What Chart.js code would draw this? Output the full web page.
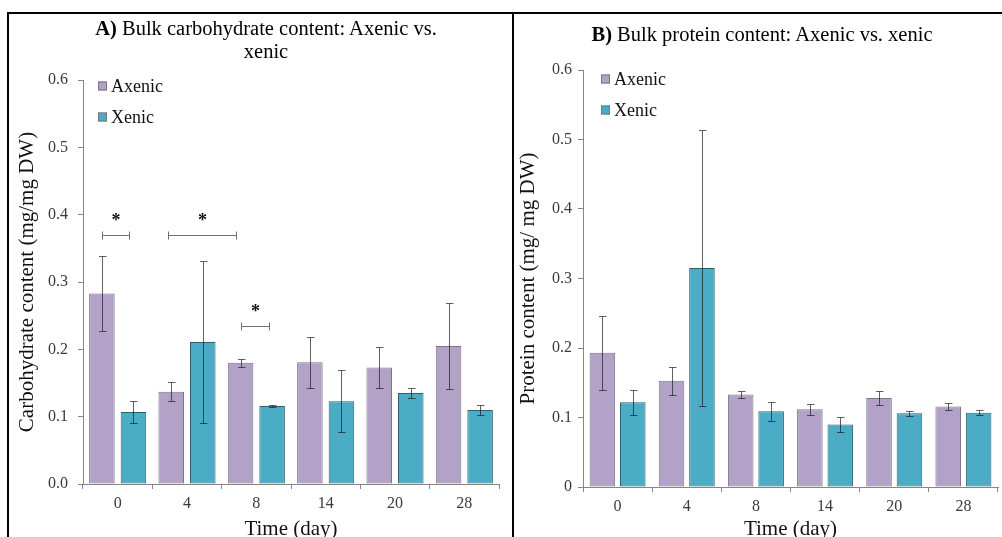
<!DOCTYPE html>
<html>
<head>
<meta charset="utf-8">
<script src="https://cdn.jsdelivr.net/npm/chart.js@4.4.1/dist/chart.umd.min.js"></script>
<style>
  html, body { margin: 0; padding: 0; background: #fff; }
  body { width: 1002px; height: 537px; position: relative; overflow: hidden; font-family: "Liberation Serif", "Times New Roman", serif; }
  .frame { position: absolute; left: 7px; top: 12px; width: 1010px; height: 540px; border-top: 2px solid #000; border-left: 2px solid #000; }
  .divider { position: absolute; left: 512px; top: 12px; width: 2px; height: 530px; background: #000; }
  .box { position: absolute; top: 15px; height: 522px; }
  .title { position: absolute; width: 420px; text-align: center; font-size: 20.5px; line-height: 23px; color: #000; white-space: nowrap; }
</style>
</head>
<body>
<div class="frame"></div>
<div class="divider"></div>
<div class="box" style="left:10px;width:502px;"><canvas id="carbChart"></canvas></div>
<div class="box" style="left:515px;width:487px;"><canvas id="protChart"></canvas></div>
<div class="title" style="left:56px;top:17px;"><b>A)</b> Bulk carbohydrate content: Axenic vs.<br>xenic</div>
<div class="title" style="left:552px;top:23px;"><b>B)</b> Bulk protein content: Axenic vs. xenic</div>
<script>
// jours d'échantillonnage
const days = ['0', '4', '8', '14', '20', '28'];

// A) glucides (mg/mg DW)
const carbAxenic = [0.283, 0.137, 0.180, 0.181, 0.173, 0.205];
const carbAxenicErr = [0.056, 0.014, 0.006, 0.038, 0.030, 0.064];
const carbXenic = [0.107, 0.211, 0.116, 0.123, 0.135, 0.110];
const carbXenicErr = [0.017, 0.120, 0.001, 0.046, 0.008, 0.008];

// B) protéines (mg/mg DW)
const protAxenic = [0.193, 0.153, 0.133, 0.112, 0.128, 0.116];
const protAxenicErr = [0.053, 0.020, 0.005, 0.008, 0.010, 0.005];
const protXenic = [0.122, 0.315, 0.109, 0.090, 0.106, 0.107];
const protXenicErr = [0.018, 0.198, 0.014, 0.011, 0.004, 0.004];

// crochets de significativité (position en index de catégorie, niveau en mg/mg DW)
const sigStart = [-0.23, 0.725, 1.78];
const sigEnd = [0.16, 1.705, 2.18];
const sigLevel = [0.370, 0.370, 0.235];

const yTicks = [0, 0.1, 0.2, 0.3, 0.4, 0.5, 0.6];

const colors = {
    axenic: '#b3a2c7',
    axenicBorder: '#7d7288',
    xenic: '#4bacc6',
    xenicBorder: '#2d5f6d',
    axis: '#868686',
    text: '#3a3a3a',
    err: 'rgba(30,30,30,0.7)'
};
const serif = '"Liberation Serif", "Times New Roman", serif';

// barres d'erreur
const errorBars = {
    id: 'errorBars',
    afterDatasetsDraw(chart) {
        const { ctx } = chart;
        const y = chart.scales.y;
        ctx.save();
        ctx.strokeStyle = colors.err;
        ctx.lineWidth = 1;
        chart.data.datasets.forEach((ds, i) => {
            chart.getDatasetMeta(i).data.forEach((bar, j) => {
                const v = ds.data[j], e = ds.errors[j];
                const top = Math.round(y.getPixelForValue(v + e)) + 0.5;
                const bot = Math.round(y.getPixelForValue(v - e)) + 0.5;
                const x = Math.round(bar.x) + 0.5;
                ctx.beginPath();
                ctx.moveTo(x, top); ctx.lineTo(x, bot);
                ctx.moveTo(x - 3.5, top); ctx.lineTo(x + 4, top);
                ctx.moveTo(x - 3.5, bot); ctx.lineTo(x + 4, bot);
                ctx.stroke();
            });
        });
        ctx.restore();
    }
};

// légende dans la zone du graphique
const innerLegend = {
    id: 'innerLegend',
    afterDraw(chart, args, opts) {
        const { ctx, chartArea } = chart;
        ctx.save();
        ctx.font = '18px ' + serif;
        ctx.textBaseline = 'middle';
        chart.data.datasets.forEach((ds, i) => {
            const x = chartArea.left + opts.dx;
            const cy = chartArea.top + opts.dy + i * 31;
            ctx.fillStyle = ds.backgroundColor;
            ctx.fillRect(x, cy - 4.5, 9, 9);
            ctx.strokeStyle = '#777';
            ctx.lineWidth = 1;
            ctx.strokeRect(x + 0.5, cy - 4, 8, 8);
            ctx.fillStyle = '#111';
            ctx.fillText(ds.label, x + 13, cy + 1);
        });
        ctx.restore();
    }
};

// crochets + astérisques
const sigBrackets = {
    id: 'sigBrackets',
    afterDraw(chart, args, opts) {
        if (!opts.start) return;
        const { ctx, scales: { x, y } } = chart;
        ctx.save();
        ctx.strokeStyle = '#707070';
        ctx.lineWidth = 1;
        opts.start.forEach((s, i) => {
            const x1 = Math.round(x.getPixelForValue(s)) + 0.5;
            const x2 = Math.round(x.getPixelForValue(opts.end[i])) + 0.5;
            const yy = Math.round(y.getPixelForValue(opts.level[i])) + 0.5;
            ctx.beginPath();
            ctx.moveTo(x1, yy); ctx.lineTo(x2, yy);
            ctx.moveTo(x1, yy - 4); ctx.lineTo(x1, yy + 4);
            ctx.moveTo(x2, yy - 4); ctx.lineTo(x2, yy + 4);
            ctx.stroke();
            ctx.fillStyle = '#111';
            ctx.font = 'bold 18px ' + serif;
            ctx.textAlign = 'center';
            ctx.textBaseline = 'middle';
            ctx.fillText('*', (x1 + x2) / 2, yy - 14);
        });
        ctx.restore();
    }
};

function makeChart(id, cfg) {
    return new Chart(document.getElementById(id), {
        type: 'bar',
        data: {
            labels: days,
            datasets: [
                {
                    label: 'Axenic',
                    data: cfg.axenic,
                    errors: cfg.axenicErr,
                    backgroundColor: colors.axenic,
                    borderColor: colors.axenicBorder,
                    borderWidth: 1,
                    borderSkipped: false,
                    categoryPercentage: cfg.catPct,
                    barPercentage: cfg.barPct
                },
                {
                    label: 'Xenic',
                    data: cfg.xenic,
                    errors: cfg.xenicErr,
                    backgroundColor: colors.xenic,
                    borderColor: colors.xenicBorder,
                    borderWidth: 1,
                    borderSkipped: false,
                    categoryPercentage: cfg.catPct,
                    barPercentage: cfg.barPct
                }
            ]
        },
        options: {
            responsive: true,
            maintainAspectRatio: false,
            animation: false,
            events: [],
            layout: { padding: cfg.padding },
            scales: {
                x: {
                    afterFit: (s) => { s.height = cfg.xHeight; },
                    grid: { drawOnChartArea: false, tickLength: 5, color: colors.axis, offset: true },
                    border: { color: colors.axis },
                    ticks: { color: colors.text, font: { family: serif, size: 16 }, padding: 5 },
                    title: { display: true, text: 'Time (day)', color: '#111', font: { family: serif, size: 21 }, padding: { top: 0, bottom: -5 } }
                },
                y: {
                    min: 0,
                    max: 0.6,
                    afterFit: (s) => { s.width = cfg.yWidth; },
                    afterBuildTicks: (s) => { s.ticks = yTicks.map(v => ({ value: v })); },
                    grid: { drawOnChartArea: false, tickLength: 5, color: colors.axis },
                    border: { color: colors.axis },
                    ticks: {
                        color: colors.text,
                        font: { family: serif, size: 16 },
                        padding: cfg.yPad,
                        callback: cfg.tickFmt
                    },
                    title: { display: true, text: cfg.yTitle, color: '#111', font: { family: serif, size: 21 }, padding: { top: cfg.yTitlePad, bottom: 0 } }
                }
            },
            plugins: {
                legend: { display: false },
                tooltip: { enabled: false },
                innerLegend: cfg.legend,
                sigBrackets: cfg.sig || {}
            }
        },
        plugins: [errorBars, innerLegend, sigBrackets]
    });
}

makeChart('carbChart', {
    axenic: carbAxenic, axenicErr: carbAxenicErr,
    xenic: carbXenic, xenicErr: carbXenicErr,
    catPct: 0.91, barPct: 0.81,
    padding: { top: 65, right: 13, bottom: 0, left: 0 },
    xHeight: 53, yWidth: 73, yPad: 10, yTitlePad: 5,
    yTitle: 'Carbohydrate content (mg/mg DW)',
    tickFmt: (v) => Number(v).toFixed(1),
    legend: { dx: 15, dy: 6 },
    sig: { start: sigStart, end: sigEnd, level: sigLevel }
});

makeChart('protChart', {
    axenic: protAxenic, axenicErr: protAxenicErr,
    xenic: protXenic, xenicErr: protXenicErr,
    catPct: 0.88, barPct: 0.84,
    padding: { top: 55, right: 4, bottom: 0, left: 0 },
    xHeight: 50, yWidth: 68, yPad: 6, yTitlePad: 1,
    yTitle: 'Protein content (mg/ mg DW)',
    tickFmt: (v) => (v === 0 ? '0' : Number(v).toFixed(1)),
    legend: { dx: 18, dy: 9 }
});
</script>
</body>
</html>
